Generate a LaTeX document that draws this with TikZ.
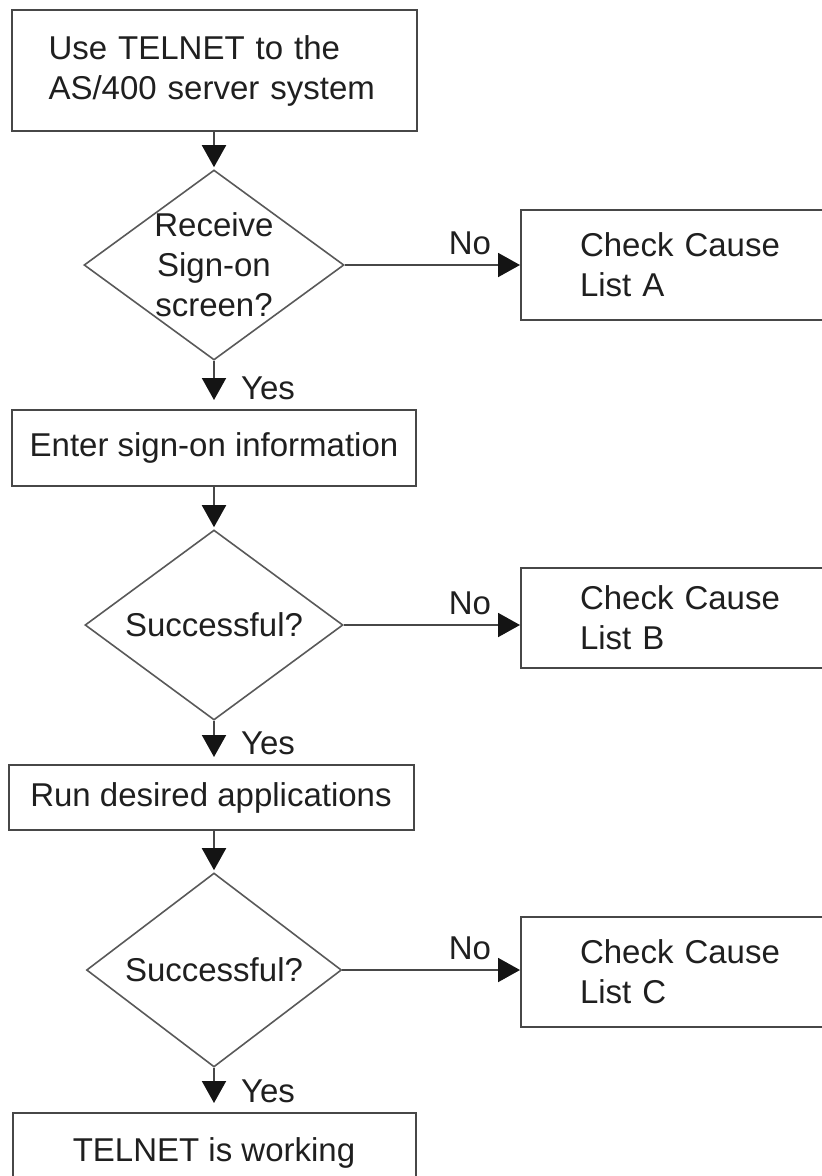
\documentclass[tikz,border=0pt]{standalone}
\usepackage{fontspec}
\setmainfont{Liberation Sans}
\usetikzlibrary{shapes.geometric,arrows.meta}
\begin{document}
\begin{tikzpicture}[x=1pt,y=-1pt,
  every node/.style={font=\fontsize{33}{40}\selectfont, text=black!88},
  box/.style={draw=black!72, line width=2pt, rectangle, inner sep=0pt},
  dec/.style={draw=black!65, line width=1.6pt, diamond, inner sep=0pt, aspect=1.35},
  arr/.style={draw=black!72, line width=2pt, -{Triangle[width=24pt,length=22pt,color=black!92]}},
  lab/.style={inner sep=0pt},
  nolab/.style={inner sep=0pt, anchor=base east, xshift=-28pt, yshift=11pt},
  yeslab/.style={inner sep=0pt, anchor=base west, xshift=26pt, yshift=10pt}]
\useasboundingbox (0,0) rectangle (822,1176);

% main column
\node[box, minimum width=405pt, minimum height=121pt, text width=331pt, inner xsep=37pt, align=left] (b1) at (214,70.5)
  {\mbox{Use TELNET to the}\\\mbox{AS/400 server system}};
\node[dec, minimum width=260pt, minimum height=190pt,
  label={[lab,align=center]center:Receive\\Sign-on\\screen?}] (d1) at (214,265) {};
\node[box, minimum width=404pt, minimum height=76pt] (b2) at (214,448) {Enter sign-on information};
\node[dec, minimum width=258pt, minimum height=190pt,
  label={[lab]center:Successful?}] (d2) at (214,625) {};
\node[box, minimum width=405pt, minimum height=65pt] (b3) at (211,797.5) {Run desired applications};
\node[dec, minimum width=255pt, minimum height=194pt,
  label={[lab]center:Successful?}] (d3) at (214,970) {};
\node[box, minimum width=403pt, minimum height=80pt] (b4) at (214,1153) {TELNET is working};

% cause lists
\node[box, minimum width=358pt, minimum height=110pt, text width=240pt, inner xsep=59pt, align=left] (cA) at (700,265)
  {Check Cause\\List A};
\node[box, minimum width=358pt, minimum height=100pt, text width=240pt, inner xsep=59pt, align=left] (cB) at (700,618)
  {Check Cause\\List B};
\node[box, minimum width=358pt, minimum height=110pt, text width=240pt, inner xsep=59pt, align=left] (cC) at (700,972)
  {Check Cause\\List C};

% connectors
\draw[arr, shorten >=2pt] (b1) -- (d1);
\draw[arr] (d1.east) -- (d1.east -| cA.west) node[nolab] {No};
\draw[arr, shorten >=9pt] (d1.south) -- (b2.north) node[yeslab] {Yes};
\draw[arr, shorten >=2pt] (b2) -- (d2);
\draw[arr] (d2.east) -- (d2.east -| cB.west) node[nolab] {No};
\draw[arr, shorten >=7pt] (d2.south) -- (d2 |- b3.north) node[yeslab] {Yes};
\draw[arr, shorten >=2pt] (d3 |- b3.south) -- (d3);
\draw[arr] (d3.east) -- (d3.east -| cC.west) node[nolab] {No};
\draw[arr, shorten >=9pt] (d3.south) -- (b4.north) node[yeslab] {Yes};
\end{tikzpicture}
\end{document}
